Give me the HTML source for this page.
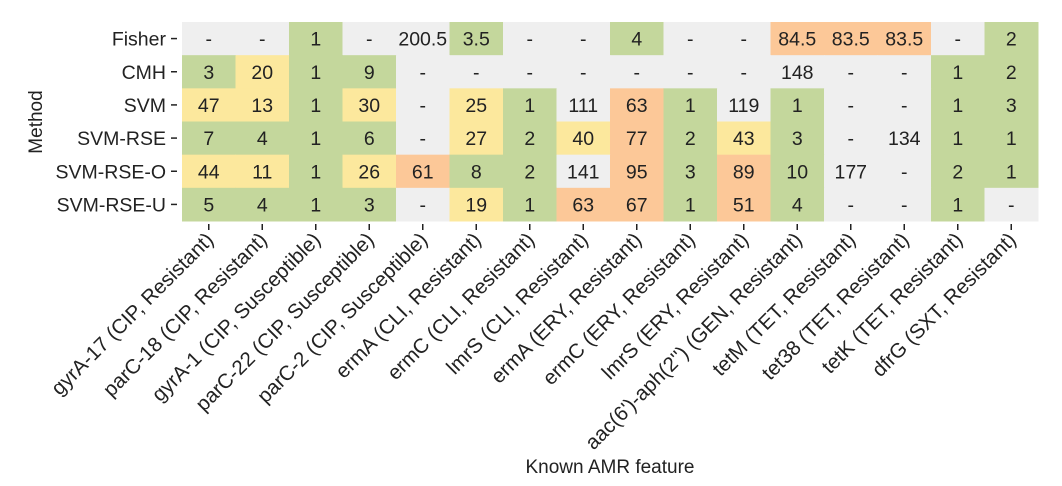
<!DOCTYPE html>
<html><head><meta charset="utf-8"><style>
body{margin:0;background:#fff;}
svg{display:block;font-family:"Liberation Sans",Arial,sans-serif;}
</style></head><body>
<svg id="chart" width="1062" height="486" viewBox="0 0 1062 486">
<g id="cells"></g><g id="xt"></g><g id="yt"></g>
<text x="610" y="473" text-anchor="middle" font-size="19" fill="#222">Known AMR feature</text>
<text transform="translate(42,122) rotate(-90)" text-anchor="middle" font-size="19" fill="#222">Method</text>
</svg>
<script>
const methods=["Fisher","CMH","SVM","SVM-RSE","SVM-RSE-O","SVM-RSE-U"];
const features=["gyrA-17 (CIP, Resistant)","parC-18 (CIP, Resistant)","gyrA-1 (CIP, Susceptible)","parC-22 (CIP, Susceptible)","parC-2 (CIP, Susceptible)","ermA (CLI, Resistant)","ermC (CLI, Resistant)","lmrS (CLI, Resistant)","ermA (ERY, Resistant)","ermC (ERY, Resistant)","lmrS (ERY, Resistant)","aac(6')-aph(2'') (GEN, Resistant)","tetM (TET, Resistant)","tet38 (TET, Resistant)","tetK (TET, Resistant)","dfrG (SXT, Resistant)"];
const rowFisher=[null,null,1,null,200.5,3.5,null,null,4,null,null,84.5,83.5,83.5,null,2];
const rowCMH=[3,20,1,9,null,null,null,null,null,null,null,148,null,null,1,2];
const rowSVM=[47,13,1,30,null,25,1,111,63,1,119,1,null,null,1,3];
const rowRSE=[7,4,1,6,null,27,2,40,77,2,43,3,null,134,1,1];
const rowRSEO=[44,11,1,26,61,8,2,141,95,3,89,10,177,null,2,1];
const rowRSEU=[5,4,1,3,null,19,1,63,67,1,51,4,null,null,1,null];
const values=[rowFisher,rowCMH,rowSVM,rowRSE,rowRSEO,rowRSEU];
const NS="http://www.w3.org/2000/svg";
const x0=182,x1=1038,y0=22,y1=221;
const cw=(x1-x0)/features.length, ch=(y1-y0)/methods.length;
const xs=i=>x0+i*cw, ys=j=>y0+j*ch;
function color(v){if(v==null||v>100)return"#efefef";if(v<=10)return"#c4d79c";if(v<=50)return"#fce89d";return"#fcc898";}
function mk(t,a,p){const e=document.createElementNS(NS,t);for(const k in a)e.setAttribute(k,a[k]);p.appendChild(e);return e;}
const cells=document.getElementById("cells"),xt=document.getElementById("xt"),yt=document.getElementById("yt");
values.forEach((row,j)=>row.forEach((v,i)=>{
  const r=mk("rect",{x:xs(i),y:ys(j),width:cw+0.5,height:ch+0.5,fill:color(v)},cells);
  
  
  const t=mk("text",{x:xs(i)+cw/2,y:ys(j)+ch/2+7,"text-anchor":"middle","font-size":"19.5",fill:"#222"},cells);
  
  
  t.textContent=v==null?"-":String(v);
}));
features.forEach((f,i)=>{
  const cx=xs(i)+cw/2;
  const l=mk("line",{x1:cx,x2:cx,y1:y1+3,y2:y1+9,stroke:"#222","stroke-width":"1.5"},xt);
  
  
  const t=mk("text",{transform:`translate(${cx+6},${y1+20}) rotate(-45)`,"text-anchor":"end","font-size":"20.5",fill:"#222"},xt);
  
  
  t.textContent=f;
});
methods.forEach((m,j)=>{
  const cy=ys(j)+ch/2;
  const l=mk("line",{x1:x0-11,x2:x0-5,y1:cy,y2:cy,stroke:"#222","stroke-width":"1.5"},yt);
  
  
  const t=mk("text",{x:x0-16,y:cy+7,"text-anchor":"end","font-size":"19.5",fill:"#222"},yt);
  
  
  t.textContent=m;
});
</script>
</body></html>
